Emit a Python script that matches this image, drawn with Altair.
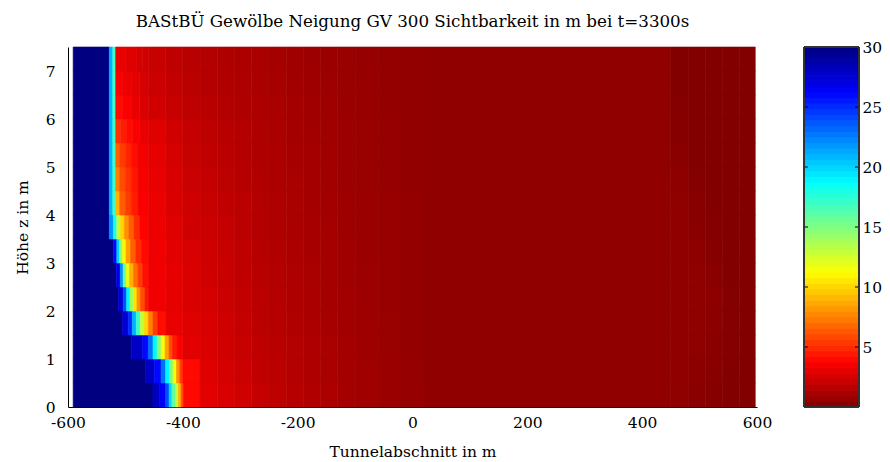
import altair as alt
import pandas as pd

title_text = "BAStBÜ Gewölbe Neigung GV 300 Sichtbarkeit in m bei t=3300s"
x_title = "Tunnelabschnitt in m"
y_title = "Höhe z in m"

x_ticks = [-600, -400, -200, 0, 200, 400, 600]
y_ticks = [0, 1, 2, 3, 4, 5, 6, 7]
cbar_ticks = [5, 10, 15, 20, 25, 30]

# colormap stops (reversed jet: 0 = dark red ... 30 = dark blue)
jet_stops = [0, 3.75, 7.5, 11.25, 15, 18.75, 22.5, 26.25, 30]
jet_colors = ["#800000", "#ff0000", "#ff8000", "#ffff00", "#80ff80",
              "#00ffff", "#0080ff", "#0000ff", "#000080"]

x_end = 597
row_height = 0.5
row_bottoms = [0, 0.5, 1, 1.5, 2, 2.5, 3, 3.5, 4, 4.5, 5, 5.5, 6, 6.5, 7]

# front zone of each row: x where the value changes, and the value from there on
front_breaks = [
    [-591, -452, -440, -430, -424, -419, -413, -408, -403, -399],
    [-591, -465, -450, -438, -430, -423, -417, -411, -405, -400],
    [-591, -490, -470, -460, -452, -445, -438, -431, -424, -418, -410],
    [-591, -505, -495, -488, -481, -474, -467, -460, -452, -444],
    [-591, -512, -504, -498, -492, -486, -480, -474, -466],
    [-591, -516, -509, -504, -499, -493, -486, -478, -470],
    [-591, -521, -515, -510, -505, -499, -491, -482, -472],
    [-591, -528, -521, -515, -509, -502, -494, -485, -475],
    [-591, -528, -522, -517, -510, -500, -490, -478],
    [-591, -528, -522, -517, -510, -500, -490, -478],
    [-591, -528, -522, -517, -510, -500, -490, -478],
    [-591, -528, -522, -517, -508, -498, -488, -476],
    [-591, -528, -522, -517, -505, -490, -475],
    [-591, -528, -522, -517, -505, -490, -475],
    [-591, -528, -522, -517, -500, -480, -470],
]
front_values = [
    [30, 28, 26.5, 24, 20, 16, 13, 9, 6, 4.0],
    [30, 28, 26, 23, 19, 15, 11.5, 8, 5.5, 4.0],
    [30, 28, 26, 23, 19, 15, 11.5, 8.5, 6, 4.5, 3.6],
    [30, 27.5, 25, 21, 17, 13, 10, 7.5, 5.5, 4.1],
    [30, 27.5, 24, 19, 14, 10.5, 8, 6, 4.4],
    [30, 27, 22, 16, 12, 9, 7, 5.5, 4.2],
    [30, 26, 20, 15, 11, 8.5, 6.5, 5, 4.0],
    [30, 22, 18, 13, 10, 8, 6.5, 5, 3.8],
    [30, 21, 17, 9, 6.5, 5.5, 4.6, 3.6],
    [30, 21, 17, 7.5, 6, 5.2, 4.4, 3.5],
    [30, 21, 17, 6.5, 5.5, 4.8, 4.1, 3.4],
    [30, 21, 17, 5.2, 4.6, 4.1, 3.6, 3.1],
    [30, 21, 17, 4.0, 3.6, 3.1, 2.7],
    [30, 21, 17, 3.6, 3.2, 2.9, 2.5],
    [30, 21, 17, 3.1, 2.8, 2.5, 2.3],
]

# red field: common column starts and the value in each row
field_breaks = [-460, -430, -400, -370, -340, -310, -280, -250, -220, -190, -160,
                -130, -100, -60, -20, 20, 450, 480, 510, 540, 570]
field_values = [
    [3.4, 3.2, 3.1, 2.9, 2.6, 2.3, 2.0, 1.8, 1.6, 1.45, 1.3, 1.1, 0.95, 0.8, 0.65, 0.5, 0.45, 0.3, 0.2, 0.1, 0.05],
    [3.4, 3.2, 3.0, 2.8, 2.5, 2.2, 1.9, 1.75, 1.55, 1.4, 1.25, 1.1, 0.95, 0.8, 0.65, 0.5, 0.5, 0.35, 0.25, 0.1, 0.05],
    [3.4, 3.2, 2.9, 2.7, 2.4, 2.1, 1.85, 1.65, 1.5, 1.35, 1.2, 1.05, 0.9, 0.75, 0.6, 0.5, 0.5, 0.45, 0.3, 0.15, 0.05],
    [3.3, 3.1, 2.8, 2.6, 2.3, 2.0, 1.75, 1.6, 1.45, 1.3, 1.15, 1.0, 0.9, 0.75, 0.6, 0.5, 0.5, 0.45, 0.35, 0.15, 0.05],
    [3.3, 3.0, 2.7, 2.5, 2.2, 1.95, 1.7, 1.55, 1.4, 1.25, 1.1, 1.0, 0.85, 0.7, 0.6, 0.5, 0.5, 0.45, 0.4, 0.15, 0.05],
    [3.3, 3.0, 2.7, 2.4, 2.15, 1.9, 1.65, 1.5, 1.35, 1.2, 1.1, 0.95, 0.85, 0.7, 0.6, 0.5, 0.5, 0.45, 0.3, 0.1, 0.05],
    [3.3, 2.9, 2.6, 2.3, 2.1, 1.85, 1.6, 1.45, 1.3, 1.15, 1.05, 0.95, 0.8, 0.7, 0.6, 0.5, 0.5, 0.4, 0.2, 0.1, 0.05],
    [3.2, 2.8, 2.4, 2.2, 2.0, 1.75, 1.55, 1.4, 1.25, 1.15, 1.05, 0.9, 0.8, 0.7, 0.6, 0.5, 0.5, 0.3, 0.15, 0.05, 0.05],
    [3.2, 2.7, 2.3, 2.1, 1.9, 1.7, 1.5, 1.35, 1.2, 1.1, 1.0, 0.9, 0.8, 0.7, 0.6, 0.5, 0.45, 0.25, 0.1, 0.05, 0.05],
    [3.1, 2.6, 2.2, 2.0, 1.8, 1.6, 1.45, 1.3, 1.2, 1.05, 1.0, 0.85, 0.75, 0.65, 0.55, 0.5, 0.4, 0.15, 0.05, 0.05, 0.05],
    [3.0, 2.5, 2.1, 1.9, 1.7, 1.55, 1.4, 1.3, 1.15, 1.05, 0.95, 0.85, 0.75, 0.65, 0.55, 0.5, 0.3, 0.1, 0.05, 0.05, 0.05],
    [2.8, 2.35, 2.0, 1.8, 1.65, 1.5, 1.4, 1.25, 1.1, 1.0, 0.95, 0.85, 0.75, 0.65, 0.55, 0.5, 0.2, 0.05, 0.05, 0.05, 0.05],
    [2.4, 2.1, 1.85, 1.65, 1.5, 1.4, 1.3, 1.2, 1.05, 0.95, 0.9, 0.8, 0.7, 0.6, 0.55, 0.5, 0.15, 0.05, 0.05, 0.05, 0.05],
    [2.2, 1.95, 1.75, 1.55, 1.45, 1.35, 1.25, 1.15, 1.0, 0.9, 0.85, 0.75, 0.7, 0.6, 0.55, 0.5, 0.1, 0.05, 0.05, 0.05, 0.05],
    [2.1, 1.85, 1.65, 1.5, 1.4, 1.3, 1.2, 1.1, 0.95, 0.85, 0.8, 0.75, 0.65, 0.6, 0.55, 0.5, 0.1, 0.05, 0.05, 0.05, 0.05],
]

records = []
for zb, fb, fv, rv in zip(row_bottoms, front_breaks, front_values, field_values):
    segs = list(zip(fb, fv))
    segs += [(b, v) for b, v in zip(field_breaks, rv) if b > fb[-1]]
    for j, (xb, v) in enumerate(segs):
        xe = segs[j + 1][0] if j + 1 < len(segs) else x_end
        records.append({"x0": xb, "x1": xe, "z0": zb, "z1": zb + row_height, "v": v})
heat_df = pd.DataFrame(records)

FONT = "DejaVu Serif"
LBL = 15.5
color_scale = alt.Scale(domain=jet_stops, range=jet_colors, interpolate="rgb", clamp=True)

heat = alt.Chart(heat_df).mark_rect(strokeWidth=0.6).encode(
    x=alt.X("x0:Q", scale=alt.Scale(domain=[-600, 600], nice=False, zero=False),
            axis=alt.Axis(values=x_ticks, title=x_title, grid=False, ticks=False,
                          labelExpr="'' + datum.value",
                          domainColor="black", labelColor="black", labelFont=FONT,
                          labelFontSize=LBL, labelPadding=8, titleFont=FONT, titleFontSize=LBL,
                          titleFontWeight="normal", titleColor="black", titlePadding=14,
                          labelFlush=False)),
    x2="x1:Q",
    y=alt.Y("z0:Q", scale=alt.Scale(domain=[0, 7.5], nice=False, zero=False),
            axis=alt.Axis(values=y_ticks, title=y_title, grid=False, ticks=False,
                          domainColor="black", labelColor="black", labelFont=FONT,
                          labelFontSize=LBL, labelPadding=13, titleFont=FONT, titleFontSize=LBL,
                          titleFontWeight="normal", titleColor="black", titlePadding=15,
                          labelFlush=False)),
    y2="z1:Q",
    color=alt.Color("v:Q", scale=color_scale, legend=None),
    stroke=alt.Stroke("v:Q", scale=color_scale, legend=None),
).properties(
    width=689, height=360,
    title=alt.TitleParams(title_text, font=FONT, fontSize=16.7, fontWeight="normal",
                          color="black", anchor="middle", offset=16),
)

# colorbar (64 bands of the colormap)
n_bands = 64
cb_df = pd.DataFrame({
    "lo": [i * 30 / n_bands for i in range(n_bands)],
    "hi": [(i + 1) * 30 / n_bands for i in range(n_bands)],
})
cb_df["mid"] = (cb_df["lo"] + cb_df["hi"]) / 2

cb_y = alt.Scale(domain=[0, 30], nice=False, zero=False)
cbar = alt.Chart(cb_df).mark_rect().encode(
    x=alt.value(0), x2=alt.value(55),
    y=alt.Y("lo:Q", scale=cb_y,
            axis=alt.Axis(orient="right", values=cbar_ticks, title=None, grid=False,
                          ticks=False, domain=False, labelColor="black", labelFont=FONT,
                          labelFontSize=LBL, labelPadding=3)),
    y2="hi:Q",
    color=alt.Color("mid:Q", scale=color_scale, legend=None),
    stroke=alt.Stroke("mid:Q", scale=color_scale, legend=None),
)
tick_df = pd.DataFrame({"t": cbar_ticks})
tl = alt.Chart(tick_df).mark_rule(color="black", strokeWidth=1).encode(
    y=alt.Y("t:Q", scale=cb_y), x=alt.value(0), x2=alt.value(4))
tr = alt.Chart(tick_df).mark_rule(color="black", strokeWidth=1).encode(
    y=alt.Y("t:Q", scale=cb_y), x=alt.value(51), x2=alt.value(55))
frame = alt.Chart(tick_df).mark_rect(fill=None, stroke="#333333", strokeWidth=1).encode(
    x=alt.value(0), x2=alt.value(55), y=alt.value(0), y2=alt.value(360))
colorbar = alt.layer(cbar, tl, tr, frame).properties(width=55, height=360)

chart = alt.hconcat(heat, colorbar, spacing=31).configure_view(stroke=None).properties(
    padding={"left": 7, "top": 6, "right": 0, "bottom": 0}
)

chart.save("out.html", embed_options={"renderer": "svg", "actions": False})
